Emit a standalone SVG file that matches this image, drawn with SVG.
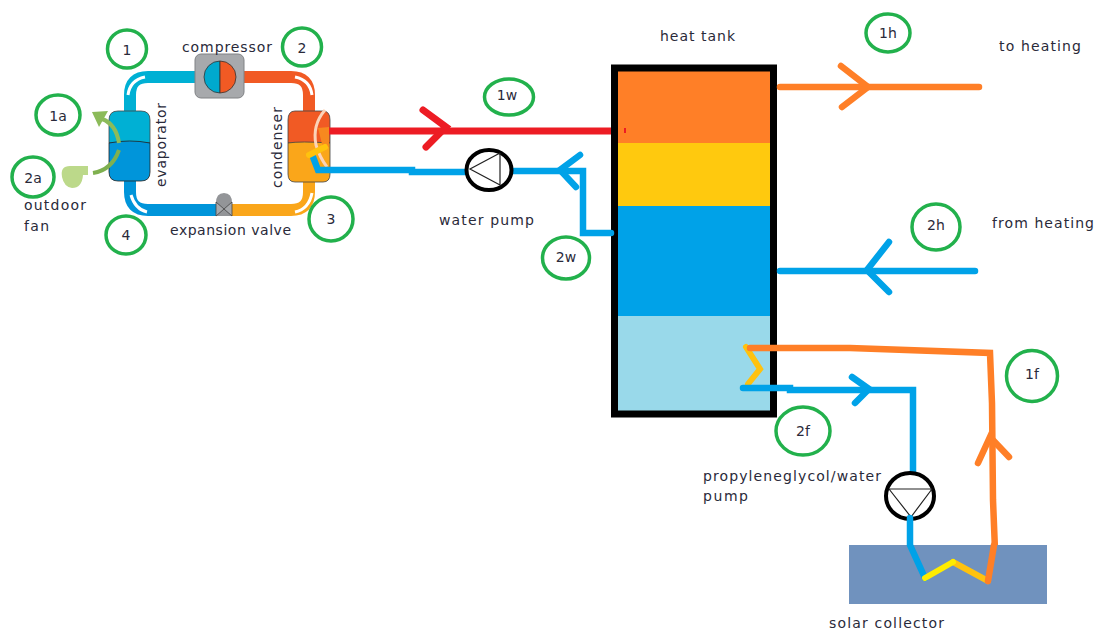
<svg xmlns="http://www.w3.org/2000/svg" width="1097" height="633" viewBox="0 0 1097 633">
<style>
text{font-family:"DejaVu Sans","Open Sans",sans-serif;fill:#2a2a3a;font-size:14px}
.c{fill:none;stroke:#22b14c;stroke-width:3.500}
.m{text-anchor:middle}
.p{fill:none;stroke-linecap:round;stroke-linejoin:miter}
.b{stroke:#00a2e8;stroke-width:6.500}
.o{stroke:#ff7f27;stroke-width:6.500}
.y{stroke:#ffc20e;stroke-width:6}
.w{fill:none;stroke:#fff;stroke-width:3}
.k{fill:#fff;stroke:#000;stroke-width:4}
.t{fill:none;stroke:#222;stroke-width:1.200}
</style>
<rect width="1097" height="633" fill="#fff"/>
<g id="tank">
<rect x="617" y="70" width="154" height="73" fill="#ff7f27"/>
<rect x="617" y="143" width="154" height="63" fill="#ffc90e"/>
<rect x="617" y="206" width="154" height="110" fill="#00a2e8"/>
<rect x="617" y="316" width="154" height="95" fill="#99d9ea"/>
<rect x="614.500" y="68" width="159" height="346" fill="none" stroke="#000" stroke-width="7"/>
<rect x="624" y="128" width="2" height="5" fill="#ed1c24"/>
</g>
<g id="heat-pump">
<path d="M130 111V95Q130 77 148 77H196" fill="none" stroke="#00b0d4" stroke-width="12"/>
<path d="M244 77H291Q309 77 309 95V111" fill="none" stroke="#f15a24" stroke-width="12"/>
<path d="M309 181V192Q309 210 291 210H228" fill="none" stroke="#faa61a" stroke-width="12"/>
<path d="M218 210H148Q130 210 130 192V181" fill="none" stroke="#0095da" stroke-width="12"/>
<path class="w" d="M128 95Q130 80 145 77"/>
<path class="w" d="M295 77Q310 80 312 95"/>
<path class="w" d="M312 193Q309 209 295 212"/>
<path class="w" d="M131 195Q135 209 147 212"/>
<rect x="195" y="54" width="49" height="44" rx="6" fill="#a7a9ac" stroke="#808285"/>
<path d="M220 61A16 16 0 0 0 220 93Z" fill="#00a9ce" stroke="#333" stroke-width=".8"/>
<path d="M220 61A16 16 0 0 1 220 93Z" fill="#f15a24" stroke="#333" stroke-width=".8"/>
<path d="M109 120Q109 111 118 111H141Q150 111 150 120V143H109Z" fill="#00b0d4" stroke="#444" stroke-width=".8"/>
<path d="M109 143Q130 139 150 143V172Q150 181 141 181H118Q109 181 109 172Z" fill="#0095da" stroke="#222" stroke-width=".8"/>
<path d="M288 120Q288 111 295 111H323Q330 111 330 120V143H288Z" fill="#f15a24" stroke="#444" stroke-width=".8"/>
<path d="M288 143Q300 141 330 143V174Q330 182 323 182H295Q288 182 288 174Z" fill="#faa61a" stroke="#444" stroke-width=".8"/>
<path d="M216 203Q216 193 224 193Q232 193 232 203V216H216Z" fill="#939598"/>
<path d="M216 202L232 216V202L216 216Z" fill="#a7a9ac" stroke="#444" stroke-width=".8"/>
<path d="M62 177Q60 166 70 166H88V175H83Q82 188 72 188Q64 187 62 177Z" fill="#bcd98a"/>
<path d="M93 173Q112 170 119 150" fill="none" stroke="#7fb04f" stroke-width="4"/>
<path d="M119 143Q116 124 102 119" fill="none" stroke="#8cbb5a" stroke-width="4"/>
<path d="M92 112L108 111L99 127Z" fill="#8cbb5a"/>
<path d="M325 110Q312 125 316 145Q320 158 327 167" fill="none" stroke="#fbd3b8" stroke-width="3"/>
<path d="M318 128L329 127L329 147L323 148Z" fill="#f7891f"/>
</g>
<g id="connectors">
<path d="M329 131H611" fill="none" stroke="#ed1c24" stroke-width="7"/>
<path class="p" d="M423 110L446 127L426 147" stroke="#ed1c24" stroke-width="7"/>
<path class="p b" d="M313 157L318 170H412V172H465"/>
<path class="p y" d="M309 155L325 147" stroke-linecap="butt"/>
<path class="p b" d="M513 171H583V233H611" stroke-linecap="butt"/>
<path class="p b" d="M580 155L560 170L576 187"/>
<path class="p o" d="M780 87H979"/>
<path class="p o" d="M841 66L868 87L842 107"/>
<path class="p b" d="M780 271H975"/>
<path class="p b" d="M889 242L867 270L889 292"/>
<path class="p y" d="M746 347L760 369L748 384"/>
<path class="p o" d="M750 348H850L990 353L992 403L993 500L995 550L988 581" stroke-linecap="butt"/>
<path class="p b" d="M743 388H790V390H913V472"/>
<path class="p b" d="M852 377L869 389L855 403"/>
<path class="p o" d="M978 463L990 437L1009 457"/>
</g>
<g id="water-pump"><ellipse cx="489" cy="170" rx="22.500" ry="20" class="k"/><path class="t" d="M500 153V185M500 153L470 169L500 185"/></g>
<g id="glycol-pump"><ellipse cx="910" cy="496" rx="24" ry="23" class="k"/><path class="t" d="M889 489H932M889 489L911 517L932 489"/></g>
<rect id="solar-collector" x="849" y="545" width="198" height="59" fill="#7092be"/>
<g id="collector-pipes">
<path class="p b" d="M910 518V545L925 578"/>
<path class="p y" d="M953 562L988 581"/>
<path class="p" d="M925 578L953 562" stroke="#ffec00" stroke-width="6"/>
<path class="p o" d="M994 545L988 581"/>
</g>
<g id="labels">
<text x="182" y="52" textLength="90">compressor</text>
<text x="24" y="210" textLength="62">outdoor</text><text x="24" y="231" textLength="25">fan</text>
<text x="170" y="235" textLength="121">expansion valve</text>
<text transform="translate(166 187) rotate(-90)" textLength="84">evaporator</text>
<text transform="translate(282 188) rotate(-90)" textLength="81">condenser</text>
<text x="439" y="225" textLength="95">water pump</text>
<text x="660" y="41" textLength="75">heat tank</text>
<text x="999" y="51" textLength="82">to heating</text>
<text x="992" y="228" textLength="102">from heating</text>
<text x="703" y="481" textLength="178">propyleneglycol/water</text><text x="703" y="501" textLength="45">pump</text>
<text x="829" y="628" textLength="115">solar collector</text>
</g>
<g id="n1"><ellipse class="c" cx="127" cy="49" rx="19.500" ry="19"/><text class="m" x="127" y="55">1</text></g>
<g id="n2"><ellipse class="c" cx="302" cy="47" rx="19.500" ry="19"/><text class="m" x="302" y="53">2</text></g>
<g id="n1a"><ellipse class="c" cx="58" cy="115" rx="22" ry="20"/><text class="m" x="58" y="121">1a</text></g>
<g id="n2a"><ellipse class="c" cx="33" cy="177" rx="21" ry="20"/><text class="m" x="33" y="183">2a</text></g>
<g id="n3"><ellipse class="c" cx="331" cy="219" rx="22" ry="22"/><text class="m" x="331" y="224">3</text></g>
<g id="n4"><ellipse class="c" cx="126" cy="235" rx="20" ry="19"/><text class="m" x="126" y="240">4</text></g>
<g id="n1w"><ellipse class="c" cx="509" cy="97" rx="24.500" ry="18"/><text class="m" x="507" y="100">1w</text></g>
<g id="n2w"><ellipse class="c" cx="566" cy="258" rx="23.500" ry="21"/><text class="m" x="566" y="262">2w</text></g>
<g id="n1h"><ellipse class="c" cx="888" cy="33" rx="22" ry="19"/><text class="m" x="888" y="38">1h</text></g>
<g id="n2h"><ellipse class="c" cx="936" cy="227" rx="24" ry="23"/><text class="m" x="936" y="230">2h</text></g>
<g id="n1f"><ellipse class="c" cx="1032" cy="376" rx="25.500" ry="25.500"/><text class="m" x="1032" y="379">1f</text></g>
<g id="n2f"><ellipse class="c" cx="803" cy="431" rx="27" ry="24"/><text class="m" x="803" y="436">2f</text></g>
</svg>
